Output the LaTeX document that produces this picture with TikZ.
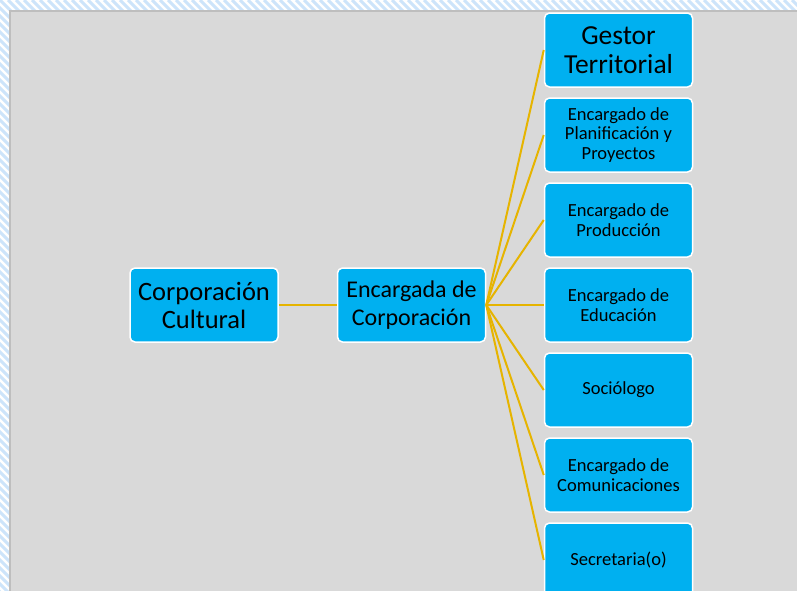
\documentclass[tikz,border=0pt]{standalone}
\usepackage{fontspec}
\setmainfont{Carlito}
\definecolor{boxblue}{RGB}{0,176,240}
\definecolor{linkgold}{RGB}{230,180,0}
\definecolor{bggray}{RGB}{217,217,217}
\definecolor{edgegray}{RGB}{190,190,190}
\definecolor{hatchblue}{RGB}{205,228,250}
\begin{document}
\begin{tikzpicture}[x=1pt,y=-1pt,
  unit/.style={rectangle,rounded corners=5pt,fill=boxblue,draw=white,line width=1.5pt,
    minimum width=148pt,minimum height=74pt,inner sep=0pt,align=center,text=black},
  big/.style={unit,font=\fontsize{26.5}{28}\selectfont},
  small/.style={unit,font=\fontsize{18.5}{19.5}\selectfont},
  link/.style={linkgold,line width=2pt}]
\useasboundingbox (0,0) rectangle (797,590);
\clip (0,0) rectangle (797,590);
% background
\fill[white] (0,0) rectangle (797,590);
\foreach \x in {-600,-592,...,800}
  \draw[hatchblue,line width=3pt] (\x,0) -- (\x+600,600);
\draw[fill=bggray,draw=edgegray,line width=1.5pt] (10,11) rectangle (810,610);
% boxes
\node[big] (cc) at (204,305) {Corporación\\Cultural};
\node[big,font=\fontsize{24}{28}\selectfont] (ec) at (411.5,305) {Encargada de\\Corporación};
\node[big,font=\fontsize{27.5}{29}\selectfont] (gt) at (618.5,50) {Gestor\\Territorial};
\node[small] (ep) at (618.5,135) {Encargado de\\Planificación y\\Proyectos};
\node[small] (epr) at (618.5,220) {Encargado de\\Producción};
\node[small] (ee) at (618.5,305) {Encargado de\\Educación};
\node[small] (so) at (618.5,390) {Sociólogo};
\node[small] (eco) at (618.5,475) {Encargado de\\Comunicaciones};
\node[small] (se) at (618.5,560) {Secretaria(o)};
% links
\draw[link] (cc.east) -- (ec.west);
\draw[link] (ec.east) -- (gt.west);
\draw[link] (ec.east) -- (ep.west);
\draw[link] (ec.east) -- (epr.west);
\draw[link] (ec.east) -- (ee.west);
\draw[link] (ec.east) -- (so.west);
\draw[link] (ec.east) -- (eco.west);
\draw[link] (ec.east) -- (se.west);
\end{tikzpicture}
\end{document}
